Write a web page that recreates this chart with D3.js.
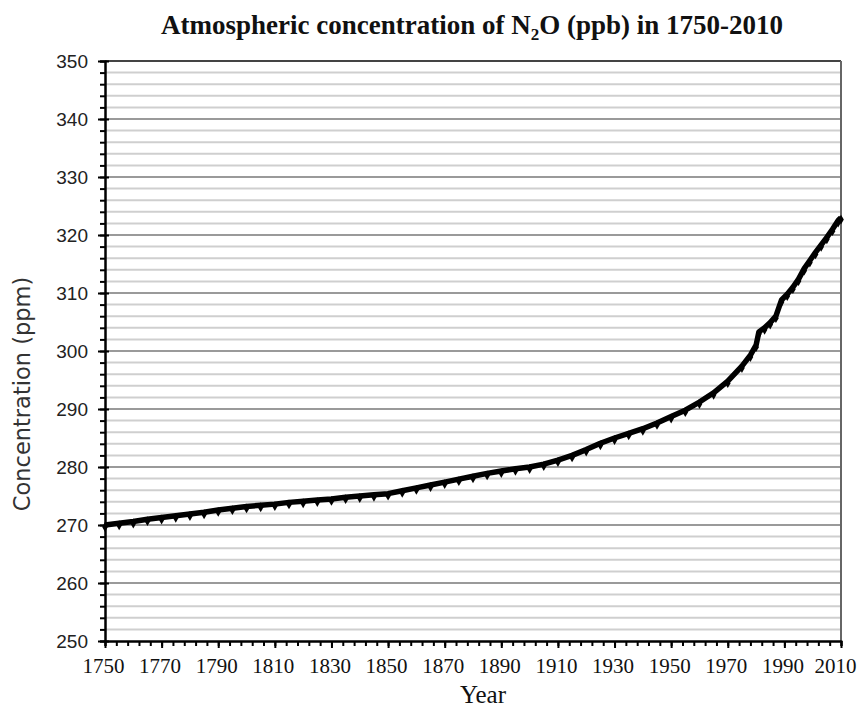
<!DOCTYPE html>
<html>
<head>
<meta charset="utf-8">
<script src="https://cdn.jsdelivr.net/npm/d3@7"></script>
<style>
  body { margin: 0; background: #fff; }
  svg { display: block; }
</style>
</head>
<body>
<div id="chart"></div>
<script>
var w = 859;
var h = 709;

// values
var years = [1750, 1755, 1760, 1765, 1770, 1775, 1780, 1785, 1790, 1795,
             1800, 1805, 1810, 1815, 1820, 1825, 1830, 1835, 1840, 1845,
             1850, 1855, 1860, 1865, 1870, 1875, 1880, 1885, 1890, 1895,
             1900, 1905, 1910, 1915, 1920, 1925, 1930, 1935, 1940, 1945,
             1950, 1955, 1960, 1965, 1970, 1975, 1978, 1980, 1981, 1983,
             1985, 1987, 1989, 1991, 1993, 1995, 1997, 1999, 2001, 2003,
             2005, 2007, 2009, 2010];
var n2o = [270.0, 270.3, 270.6, 271.0, 271.3, 271.6, 271.9, 272.2, 272.6, 272.9,
           273.2, 273.4, 273.6, 273.9, 274.1, 274.3, 274.5, 274.8, 275.0, 275.2,
           275.4, 275.9, 276.4, 276.9, 277.4, 277.9, 278.4, 278.9, 279.3, 279.7,
           280.0, 280.5, 281.2, 282.0, 283.0, 284.1, 285.0, 285.8, 286.6, 287.6,
           288.7, 289.8, 291.2, 292.8, 294.8, 297.4, 299.3, 301.0, 303.3, 304.0,
           304.9, 306.0, 308.8, 309.8, 311.0, 312.4, 314.2, 315.6, 317.0, 318.3,
           319.6, 321.0, 322.5, 323.0];
var yTicks = [250, 260, 270, 280, 290, 300, 310, 320, 330, 340, 350];
var xTicks = [1750, 1770, 1790, 1810, 1830, 1850, 1870, 1890, 1910, 1930, 1950, 1970, 1990, 2010];

var points = years.map(function(y, i) { return { year: y, value: n2o[i] }; });

var plotLeft = 105, plotRight = 841, plotTop = 61, plotBottom = 641;

var svg = d3.select("#chart")
            .append("svg")
            .attr("width", w)
            .attr("height", h);

var x = d3.scaleLinear().domain([1750, 2010]).range([plotLeft, plotRight]);
var y = d3.scaleLinear().domain([250, 350]).range([plotBottom, plotTop]);

// minor gridlines every 2 ppm, major every 10
var minor = d3.range(252, 350, 2).filter(function(v) { return v % 10 !== 0; });
svg.append("g").selectAll("line")
   .data(minor)
   .enter()
   .append("line")
   .attr("x1", plotLeft).attr("x2", plotRight)
   .attr("y1", function(d) { return y(d); })
   .attr("y2", function(d) { return y(d); })
   .style("stroke", "#cfcfcf")
   .style("stroke-width", 2);

svg.append("g").selectAll("line")
   .data(yTicks.slice(1))
   .enter()
   .append("line")
   .attr("x1", plotLeft).attr("x2", plotRight)
   .attr("y1", function(d) { return y(d); })
   .attr("y2", function(d) { return y(d); })
   .style("stroke", function(d) { return d === 350 ? "#444" : "#9a9a9a"; })
   .style("stroke-width", 2);

// right border
svg.append("line")
   .attr("x1", plotRight).attr("x2", plotRight)
   .attr("y1", plotTop).attr("y2", plotBottom)
   .style("stroke", "#666")
   .style("stroke-width", 2);

// y axis
var yMinor = svg.append("g")
   .attr("transform", "translate(" + plotLeft + ",0)")
   .call(d3.axisLeft(y).tickValues(d3.range(250, 351, 2)).tickSize(5).tickFormat(""));
var yMajor = svg.append("g")
   .attr("transform", "translate(" + plotLeft + ",0)")
   .call(d3.axisLeft(y).tickValues(yTicks).tickSizeInner(7).tickSizeOuter(0).tickPadding(10));
yMajor.selectAll(".tick line").attr("x2", -7).attr("x1", 4);

// x axis
var xMinor = svg.append("g")
   .attr("transform", "translate(0," + plotBottom + ")")
   .call(d3.axisBottom(x).tickValues(d3.range(1750, 2011, 4)).tickSize(5).tickFormat(""));
var xMajor = svg.append("g")
   .attr("transform", "translate(0," + plotBottom + ")")
   .call(d3.axisBottom(x).tickValues(xTicks).tickSizeInner(7).tickSizeOuter(0)
         .tickPadding(10).tickFormat(d3.format("d")));

[yMinor, yMajor, xMinor, xMajor].forEach(function(g) {
    g.select(".domain").style("stroke", "#000").style("stroke-width", 2);
    g.selectAll(".tick line").style("stroke", "#000").style("stroke-width", 2);
});

yMajor.selectAll("text")
      .style("font-family", "'Liberation Sans', Arial, sans-serif")
      .style("font-size", "19px")
      .style("fill", "#222");

xMajor.selectAll("text")
      .attr("dx", function(d) { return d === 2010 ? -6 : -2; })
      .style("font-family", "'Liberation Serif', 'Times New Roman', serif")
      .style("font-size", "21px")
      .style("fill", "#111");

// data line
var line = d3.line()
             .x(function(d) { return x(d.year); })
             .y(function(d) { return y(d.value); });

svg.append("path")
   .datum(points)
   .attr("d", line)
   .style("fill", "none")
   .style("stroke", "#000")
   .style("stroke-width", 5.5)
   .style("stroke-linejoin", "round");

svg.append("g").selectAll("path")
   .data(points)
   .enter()
   .append("path")
   .attr("d", d3.symbol().type(d3.symbolDiamond).size(28))
   .attr("transform", function(d) { return "translate(" + x(d.year) + "," + (y(d.value) + 2) + ")"; })
   .style("fill", "#000");

// titles
var title = svg.append("text")
   .attr("x", 472)
   .attr("y", 34)
   .attr("text-anchor", "middle")
   .style("font-family", "'Liberation Serif', 'Times New Roman', serif")
   .style("font-weight", "bold")
   .style("font-size", "27px")
   .style("fill", "#111");
title.append("tspan").text("Atmospheric concentration of N");
title.append("tspan").attr("dy", 6).style("font-size", "17px").text("2");
title.append("tspan").attr("dy", -6).text("O (ppb) in 1750-2010");

svg.append("text")
   .attr("x", 483)
   .attr("y", 703)
   .attr("text-anchor", "middle")
   .style("font-family", "'Liberation Serif', 'Times New Roman', serif")
   .style("font-size", "25px")
   .style("fill", "#111")
   .text("Year");

svg.append("text")
   .attr("transform", "translate(30,394) rotate(-90)")
   .attr("text-anchor", "middle")
   .style("font-family", "'DejaVu Sans', Verdana, sans-serif")
   .style("font-size", "22.5px")
   .style("fill", "#333")
   .text("Concentration (ppm)");
</script>
</body>
</html>
